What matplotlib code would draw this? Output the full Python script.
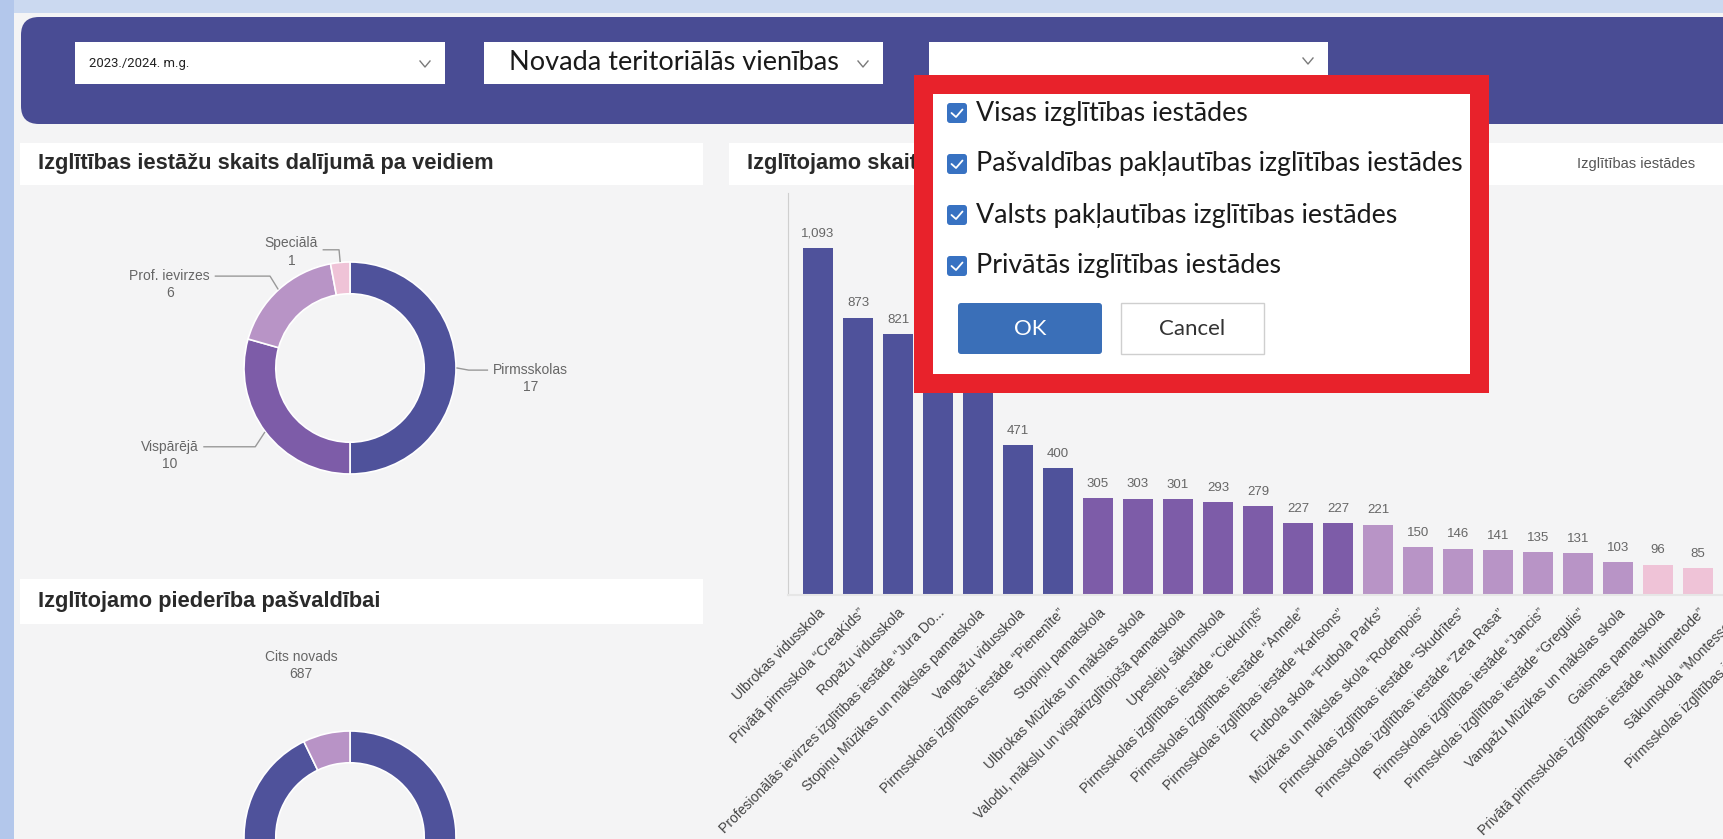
import matplotlib
matplotlib.use("Agg")
import matplotlib.pyplot as plt
from matplotlib.patches import Rectangle, FancyBboxPatch
import matplotlib.transforms as mtransforms
import numpy as np

W, H, DPI = 1723, 839, 100

# ---------------- data ----------------
year_filter = "2023./2024. m.g."
unit_filter = "Novada teritoriālās vienības"
option_labels = [
    "Visas izglītības iestādes",
    "Pašvaldības pakļautības izglītības iestādes",
    "Valsts pakļautības izglītības iestādes",
    "Privātās izglītības iestādes",
]
ok_label = "OK"
cancel_label = "Cancel"

types_title = "Izglītības iestāžu skaits dalījumā pa veidiem"
type_names = ["Pirmsskolas", "Vispārējā", "Prof. ievirzes", "Speciālā"]
type_counts = [17, 10, 6, 1]
type_colors = ["#4f529b", "#7d5ca8", "#b894c6", "#efc3d7"]

belong_title = "Izglītojamo piederība pašvaldībai"
belong_names = ["Ropažu novads", "Cits novads"]
belong_counts = [8900, 687]
belong_colors = ["#4f529b", "#b893c6"]

students_title = "Izglītojamo skaits izglītības iestādēs"
slicer_label = "Izglītības iestādes"
school_names = [
    "Ulbrokas vidusskola",
    "Privātā pirmsskola \u201cCreaKids\u201d",
    "Ropažu vidusskola",
    "Profesionālās ievirzes izglītības iestāde \u201cJura Do...",
    "Stopiņu Mūzikas un mākslas pamatskola",
    "Vangažu vidusskola",
    "Pirmsskolas izglītības iestāde \u201cPienenīte\u201d",
    "Stopiņu pamatskola",
    "Ulbrokas Mūzikas un mākslas skola",
    "Valodu, mākslu un vispārizglītojošā pamatskola",
    "Upesleju sākumskola",
    "Pirmsskolas izglītības iestāde \u201cCiekurīņš\u201d",
    "Pirmsskolas izglītības iestāde \u201cAnnele\u201d",
    "Pirmsskolas izglītības iestāde \u201cKarlsons\u201d",
    "Futbola skola \u201cFutbola Parks\u201d",
    "Mūzikas un mākslas skola \u201cRodenpois\u201d",
    "Pirmsskolas izglītības iestāde \u201cSkudrītes\u201d",
    "Pirmsskolas izglītības iestāde \u201cZeta Rasa\u201d",
    "Pirmsskolas izglītības iestāde \u201cJancis\u201d",
    "Pirmsskolas izglītības iestāde \u201cGregulis\u201d",
    "Vangažu Mūzikas un mākslas skola",
    "Gaismas pamatskola",
    "Privātā pirmsskolas izglītības iestāde \u201cMutimetode\u201d",
    "Sākumskola \u201cMontessori...",
    "Pirmsskolas izglītības iestāde \u201cPa...",
]
student_counts = [1093, 873, 821, 760, 690, 471, 400, 305, 303, 301, 293, 279,
                  227, 227, 221, 150, 146, 141, 135, 131, 103, 96, 85, 80, 74]
group_colors = ["#4f529b", "#7d5ca8", "#b894c6", "#efc3d7"]

# ---------------- figure ----------------
plt.rcParams['font.family'] = ['Liberation Sans', 'DejaVu Sans']
fig = plt.figure(figsize=(W / DPI, H / DPI), dpi=DPI)
fig.patch.set_facecolor('#cbd9f0')
renderer = fig.canvas.get_renderer()
POP_FONT = ['Lato', 'Open Sans', 'DejaVu Sans']


def pix_axes(x0, y0, x1, y1, z):
    ax = fig.add_axes([x0 / W, 1 - y1 / H, (x1 - x0) / W, (y1 - y0) / H])
    ax.set_zorder(z)
    return ax


def fit_text(ax, x, y, s, width, **kw):
    t = ax.text(x, y, s, fontsize=12, **kw)
    w = t.get_window_extent(renderer).width
    size = 12 * width / w
    t.set_fontsize(size)
    return t, size


bg = pix_axes(0, 0, W, H, 0)
bg.set_xlim(0, W)
bg.set_ylim(H, 0)
bg.axis('off')

# frame + content background
bg.add_patch(Rectangle((0, 0), 14, H, fc='#b3c7eb', ec='none'))
bg.add_patch(Rectangle((14, 13), W, H, fc='#f4f4f5', ec='none'))
# top indigo bar
bg.add_patch(FancyBboxPatch((21, 17), W + 60, 107,
                            boxstyle='round,pad=0,rounding_size=18',
                            fc='#494c94', ec='none'))
# dropdowns
for (x0, y0, x1, y1) in [(75, 42, 445, 84), (484, 42, 883, 84), (929, 42, 1328, 78)]:
    bg.add_patch(Rectangle((x0, y0), x1 - x0, y1 - y0, fc='white', ec='none'))
    cx, cy = x1 - 20, (y0 + y1) / 2 + 1
    bg.plot([cx - 5, cx, cx + 5], [cy - 3, cy + 3, cy - 3], color='#7a7a7a', lw=1)
fit_text(bg, 89, 63, year_filter, 100, va='center', color='#222',
         family=['Roboto', 'Liberation Sans'])
fit_text(bg, 509, 62, unit_filter, 329, va='center', color='#1a1a1a',
         family=POP_FONT)

# title boxes
bg.add_patch(Rectangle((20, 143), 683, 42, fc='white', ec='none'))
bg.add_patch(Rectangle((20, 579), 683, 45, fc='white', ec='none'))
bg.add_patch(Rectangle((729, 143), W, 42, fc='white', ec='none'))
_, tsize = fit_text(bg, 38, 164, types_title, 453, va='center', color='#2a2a2a',
                    fontweight='bold')
bg.text(38, 602, belong_title, va='center', color='#2a2a2a', fontweight='bold', fontsize=tsize)
t_st = bg.text(747, 164, students_title, va='center', color='#2a2a2a', fontweight='bold',
               fontsize=tsize)
t_st.set_clip_path(Rectangle((729, 143), 914 - 729, 42, transform=bg.transData))
bg.text(1577, 164, slicer_label, va='center', color='#555555', fontsize=10.5)

# ---------------- bar chart ----------------
axb = pix_axes(788, 193, 1808, 595, 2)
axb.patch.set_alpha(0)
n = len(student_counts)
xs = np.arange(n)
cols = [group_colors[min(i // 7, len(group_colors) - 1)] for i in range(n)]
bars = axb.bar(xs, student_counts, width=0.75, color=cols, zorder=2)
axb.set_xlim(-0.75, n - 0.25)
axb.set_ylim(0, 1266)
axb.bar_label(bars, labels=[f"{v:,}" for v in student_counts], padding=6,
              fontsize=9.5, color='#666666')
axb.set_xticks(xs)
axb.set_xticklabels(school_names, rotation=45, ha='right', va='top',
                    rotation_mode='anchor', fontsize=10, color='#444444')
shift = mtransforms.ScaledTranslation(12 / DPI, 0, fig.dpi_scale_trans)
for lab in axb.get_xticklabels():
    lab.set_transform(lab.get_transform() + shift)
axb.tick_params(axis='x', length=0, pad=8)
axb.set_yticks([])
for s in ['top', 'right']:
    axb.spines[s].set_visible(False)
axb.spines['left'].set_color('#cfcfcf')
axb.spines['bottom'].set_color('#e6e6e6')
axb.spines['bottom'].set_linewidth(1.5)

# ---------------- donuts ----------------
R = 106


def donut(cx, cy, counts, colors):
    half = 170
    ax = pix_axes(cx - half, cy - half, cx + half, cy + half, 3)
    wedges, _ = ax.pie(counts, radius=1, startangle=90, counterclock=False,
                       colors=colors,
                       wedgeprops=dict(width=0.30, edgecolor='white', linewidth=1.2))
    lim = half / R
    ax.set_xlim(-lim, lim)
    ax.set_ylim(-lim, lim)
    ax.set_aspect('equal')
    ax.axis('off')
    return ax, wedges


ax1, w1 = donut(350, 368, type_counts, type_colors)
for w, name, val in zip(w1, type_names, type_counts):
    th = np.deg2rad((w.theta1 + w.theta2) / 2)
    c, s = np.cos(th), np.sin(th)
    tx = float(np.clip(6 * c, -1.7, 1.7))
    ty = 1.2 * s - 0.1
    t = ax1.text(tx, ty, f"{name}\n{val}", ha='center', va='center',
                 multialignment='center', fontsize=10, color='#666666', clip_on=False,
                 linespacing=1.3)
    hw = t.get_window_extent(renderer).width / 2 / R
    p1 = (1.01 * c, 1.01 * s)
    ly = ty + 0.08
    p2 = (1.12 * c, ly if abs(c) > 0.3 else 1.12 * s)
    edge = tx - np.sign(tx - p2[0]) * (hw + 0.05)
    ax1.plot([p1[0], p2[0], edge], [p1[1], p2[1], p2[1]], color='#999999', lw=1,
             clip_on=False)

ax2, w2 = donut(350, 837, belong_counts, belong_colors)
w = w2[-1]
th = np.deg2rad((w.theta1 + w.theta2) / 2 + 3)
ax2.text(1.68 * np.cos(th), 1.68 * np.sin(th), f"{belong_names[-1]}\n{belong_counts[-1]}",
         ha='center', va='center', multialignment='center', fontsize=10,
         color='#666666', clip_on=False, linespacing=1.3)

# ---------------- popup overlay ----------------
pop = pix_axes(0, 0, W, H, 10)
pop.set_xlim(0, W)
pop.set_ylim(H, 0)
pop.axis('off')
pop.add_patch(Rectangle((914, 75), 575, 318, fc='#e8222b', ec='none'))
pop.add_patch(Rectangle((933, 94), 537, 280, fc='white', ec='none'))

row_y = 113 + 51 * np.arange(len(option_labels))
longest = max(option_labels, key=len)
tmp, osize = fit_text(pop, 976, 0, longest, 483, family=POP_FONT)
tmp.remove()
for yc, lab in zip(row_y, option_labels):
    pop.add_patch(FancyBboxPatch((947, yc - 10), 20, 20,
                                 boxstyle='round,pad=0,rounding_size=3',
                                 fc='#3872c2', ec='none'))
    pop.plot([951.5, 956, 962.5], [yc, yc + 4, yc - 3.5], color='white', lw=1.3,
             solid_capstyle='round')
    pop.text(976, yc, lab, va='center', fontsize=osize, color='#1a1a1a',
             family=POP_FONT)

pop.add_patch(FancyBboxPatch((958, 303), 144, 51, boxstyle='round,pad=0,rounding_size=3',
                             fc='#3a6fb8', ec='none'))
pop.text(1030, 329, ok_label, ha='center', va='center', fontsize=16, color='white',
         family=POP_FONT)
pop.add_patch(Rectangle((1121, 303), 143, 51, fc='white', ec='#cfcfcf', lw=1))
pop.text(1192, 329, cancel_label, ha='center', va='center', fontsize=16, color='#333333',
         family=POP_FONT)

fig.savefig('out.png', dpi=DPI, facecolor=fig.get_facecolor())
